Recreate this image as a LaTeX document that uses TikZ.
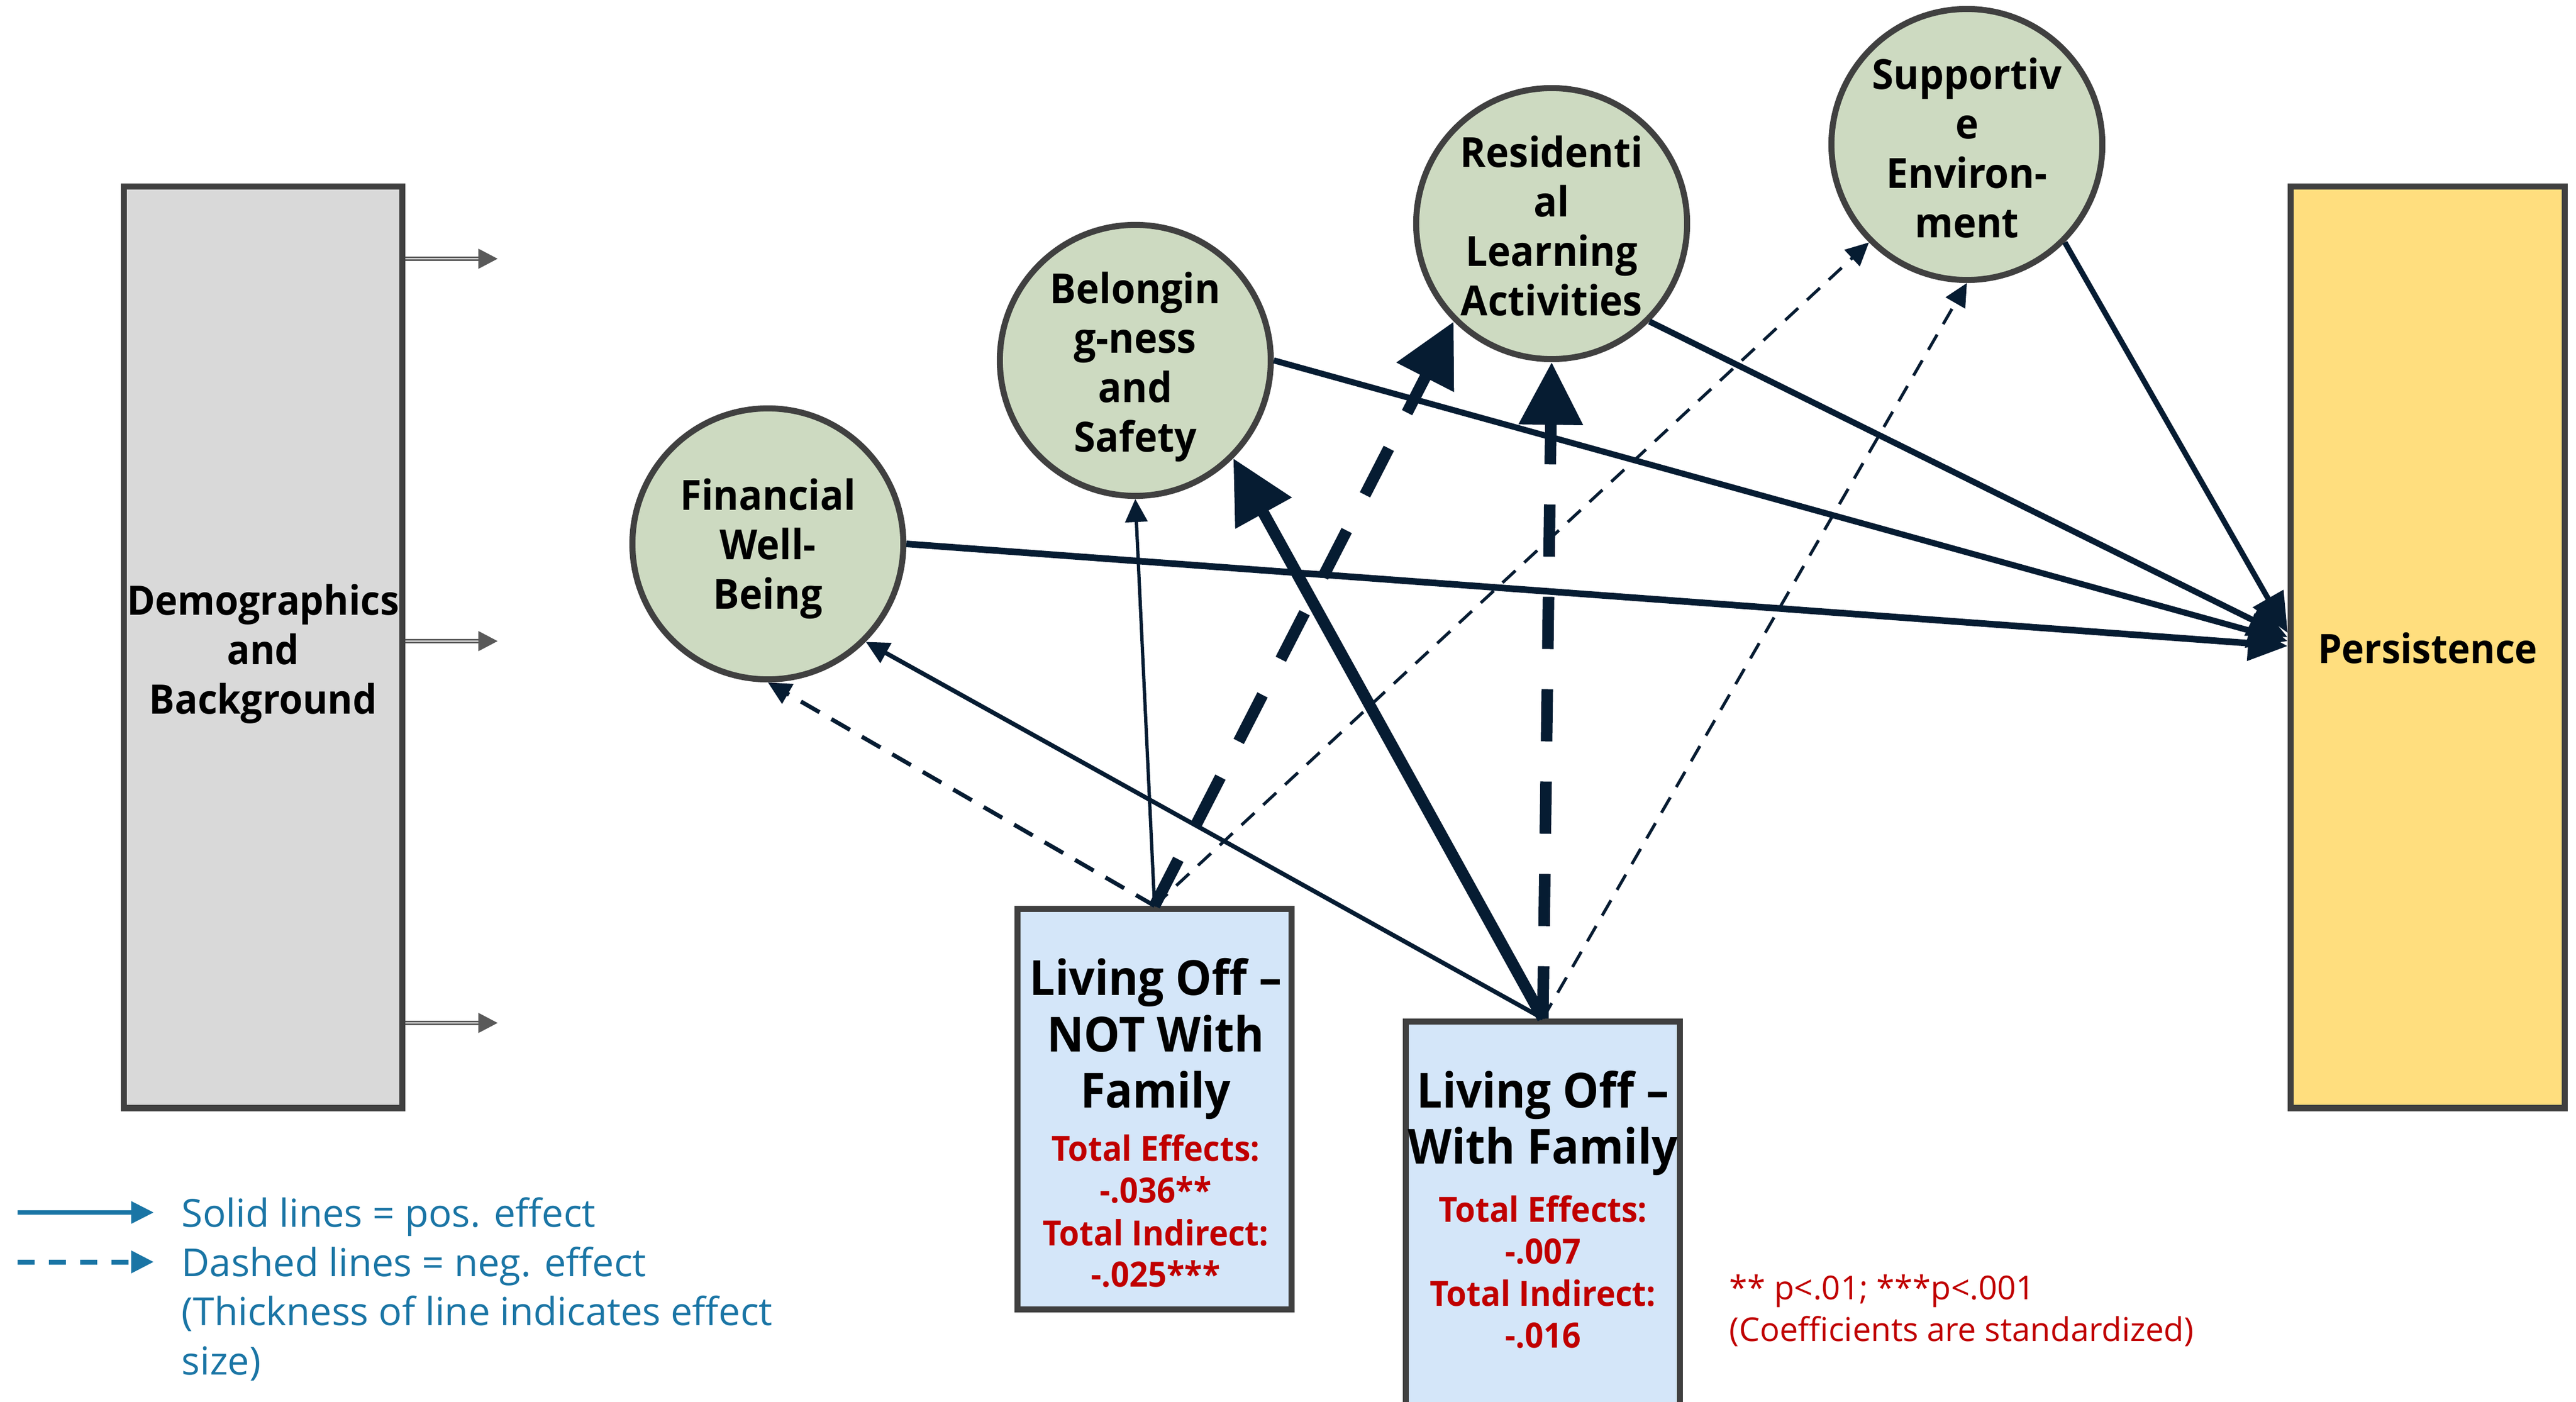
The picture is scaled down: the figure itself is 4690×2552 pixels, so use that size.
\documentclass[tikz,border=0pt]{standalone}
\usepackage{fontspec}
\setmainfont{Open Sans}
\newfontfamily\bfam{Open Sans}[FakeStretch=0.94]
\newfontfamily\rfam{Open Sans}
\usetikzlibrary{arrows.meta}
\definecolor{navy}{HTML}{061C32}
\definecolor{bordergray}{HTML}{404040}
\definecolor{demofill}{HTML}{D9D9D9}
\definecolor{persfill}{HTML}{FFDE7E}
\definecolor{circgreen}{HTML}{CDDAC1}
\definecolor{boxblue}{HTML}{D4E6F9}
\definecolor{redtxt}{HTML}{C00000}
\definecolor{legblue}{HTML}{1A75A5}
\definecolor{arrgray}{HTML}{595959}
\begin{document}
\begin{tikzpicture}[x=0.01cm, y=-0.01cm,
  rectbox/.style={draw=bordergray, line width=0.11cm, inner sep=0pt, align=center},
  circ/.style={circle, draw=bordergray, line width=0.11cm, fill=circgreen,
    minimum size=4.93cm, inner sep=0pt},
  circtext/.style={inner sep=0pt, align=center,
    font=\bfam\bfseries\fontsize{21.5pt}{25.6pt}\selectfont},
  bigfont/.style={inner sep=0pt, align=center, font=\bfam\bfseries\fontsize{21pt}{25.6pt}\selectfont},
  titlefont/.style={inner sep=0pt, anchor=base, font=\bfam\bfseries\fontsize{25pt}{29pt}\selectfont},
  redfont/.style={inner sep=0pt, anchor=base, text=redtxt, font=\bfam\bfseries\fontsize{18pt}{21pt}\selectfont},
  legfont/.style={inner sep=0pt, anchor=base west, text=legblue, font=\rfam\fontsize{20pt}{25.6pt}\selectfont},
  notefont/.style={inner sep=0pt, anchor=base west, text=redtxt, font=\rfam\fontsize{17pt}{21pt}\selectfont},
  conn/.style={draw=navy, line cap=butt},
  tipbig/.style={-{Triangle[length=1.14cm,width=1.12cm]}},
  tipmed/.style={-{Triangle[length=0.72cm,width=0.62cm]}},
  tipsmall/.style={-{Triangle[length=0.42cm,width=0.40cm]}},
  wthick/.style={line width=0.21cm},
  wmed/.style={line width=0.11cm},
  wfin/.style={line width=0.08cm},
  wthin/.style={line width=0.06cm},
  wdm/.style={line width=0.075cm, dash pattern=on 0.39cm off 0.25cm},
  wdt/.style={line width=0.055cm, dash pattern=on 0.32cm off 0.22cm},
  wdthick/.style={line width=0.21cm, dash pattern=on 0.95cm off 0.73cm},
  demarrow/.style={draw=arrgray, line width=0.03cm, double=white, double distance=0.02cm,
    -{Triangle[length=0.35cm,width=0.36cm]}},
]
\useasboundingbox (0,0) rectangle (4690,2552);

% boxes
\node[rectbox, fill=demofill, minimum width=5.07cm, minimum height=16.77cm]
  (demo) at (479,1178) {};
\node[bigfont] (demot) at (479,1190) {Demographics\\and\\Background};
\node[rectbox, fill=persfill, minimum width=4.99cm, minimum height=16.77cm]
  (pers) at (4420,1178) {};
\node[bigfont] (perst) at (4420,1180) {Persistence};
\node[rectbox, fill=boxblue, minimum width=4.99cm, minimum height=7.29cm]
  (notfam) at (2102,2019) {};
\node[rectbox, fill=boxblue, minimum width=4.99cm, minimum height=7.805cm]
  (withfam) at (2809,2249.75) {};

% circles
\node[circ] (fin) at (1398,990) {};
\node[circ] (bel) at (2067,656) {};
\node[circ] (res) at (2825,407) {};
\node[circ] (sup) at (3581,263) {};
\node[circtext] (fint) at (1398,999) {Financial\\Well-\\Being};
\node[circtext] (belt) at (2067,668) {Belongin\\g-ness\\and\\Safety};
\node[circtext] (rest) at (2825,411) {Residenti\\al\\Learning\\Activities};
\node[circtext] (supt) at (3581,269) {Supportiv\\e\\Environ-\\ment};

% box texts
\node[titlefont] (n1) at (2104,1811) {Living Off –};
\node[titlefont] (n2) at (2104,1914) {NOT With};
\node[titlefont] (n3) at (2104,2016) {Family};
\node[redfont] (n4) at (2104,2113) {Total Effects:};
\node[redfont] (n5) at (2104,2189) {-.036**};
\node[redfont] (n6) at (2104,2267) {Total Indirect:};
\node[redfont] (n7) at (2104,2342) {-.025***};

\node[titlefont] (w1) at (2809,2016) {Living Off –};
\node[titlefont] (w2) at (2809,2118) {With Family};
\node[redfont] (w3) at (2809,2224) {Total Effects:};
\node[redfont] (w4) at (2809,2300) {-.007};
\node[redfont] (w5) at (2809,2377) {Total Indirect:};
\node[redfont] (w6) at (2809,2453) {-.016};

% demographics arrows
\coordinate (d1) at (906,471);
\coordinate (d2) at (906,1167);
\coordinate (d3) at (906,1862);
\draw[demarrow] (demo.east |- d1) -- (d1);
\draw[demarrow] (demo.east |- d2) -- (d2);
\draw[demarrow] (demo.east |- d3) -- (d3);

% arrows into persistence
\coordinate (pf) at (4165,1176);
\coordinate (pb) at (4165,1167);
\coordinate (pr) at (4165,1160);
\coordinate (ps) at (4165,1152);
\draw[conn, wmed, line width=0.12cm, tipmed] (fin.0) -- (pf);
\draw[conn, wmed, tipmed] (bel.0) -- (pb);
\draw[conn, wmed, tipmed] (res.-45) -- (pr);
\draw[conn, wmed, line width=0.1cm, tipmed] (sup.-45) -- (ps);

% from NOT with family
\draw[conn, wdm, tipsmall] (notfam.north) -- (fin.270);
\draw[conn, wthin, tipsmall] (notfam.north) -- (bel.270);
\draw[conn, wdthick, tipbig] (notfam.north) -- (res.225);
\draw[conn, wdt, tipsmall] (notfam.north) -- (sup.225);

% from with family
\draw[conn, wfin, tipsmall] (withfam.north) -- (fin.-45);
\draw[conn, wthick, tipbig] (withfam.north) -- (bel.-45);
\draw[conn, wdthick, tipbig] (withfam.north) -- (res.270);
\draw[conn, wdt, tipsmall] (withfam.north) -- (sup.270);

% legend
\coordinate (ls1) at (32,2207);
\coordinate (le1) at (280,2207);
\coordinate (ls2) at (32,2297);
\coordinate (le2) at (280,2297);
\draw[draw=legblue, line width=0.08cm, -{Triangle[length=0.41cm,width=0.39cm]}] (ls1) -- (le1);
\draw[draw=legblue, line width=0.09cm, dash pattern=on 0.31cm off 0.26cm, -{Triangle[length=0.41cm,width=0.39cm]}] (ls2) -- (le2);
\node[legfont] (l1) at (330,2233) {Solid lines = pos. effect};
\node[legfont] (l2) at (330,2323) {Dashed lines = neg. effect};
\node[legfont] (l3) at (330,2412) {(Thickness of line indicates effect};
\node[legfont] (l4) at (330,2502) {size)};

% note
\node[notefont] (p1) at (3148,2365) {** p<.01; ***p<.001};
\node[notefont] (p2) at (3148,2441) {(Coefficients are standardized)};
\end{tikzpicture}
\end{document}
